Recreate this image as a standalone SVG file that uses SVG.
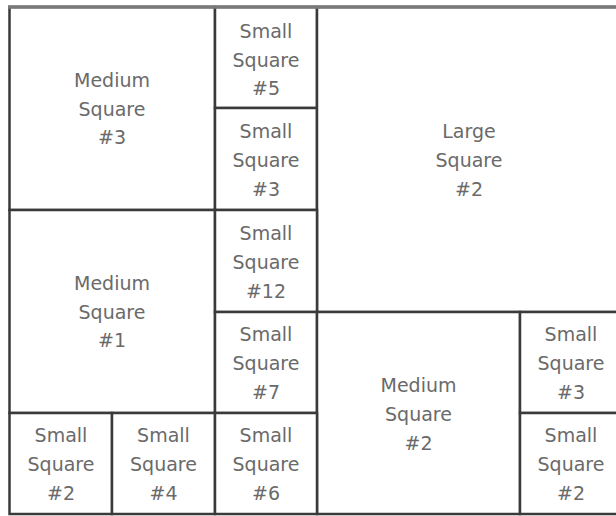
<svg xmlns="http://www.w3.org/2000/svg" width="616" height="516" viewBox="0 0 616 516">
  <style>
    .cell { fill: #ffffff; stroke: #3a3a3a; stroke-width: 2.5; }
    .lbl { font-family: "DejaVu Sans", "Liberation Sans", sans-serif; font-size: 19px; fill: #6a6a6a; text-anchor: middle; dominant-baseline: central; }
    .top { stroke: #7a7a7a; stroke-width: 3.5; fill: none; }
  </style>
  <rect x="0" y="0" width="616" height="516" fill="#ffffff"/>
  <g id="medium-square-3">
    <rect class="cell" x="9.5" y="7" width="205.5" height="203"/>
    <text class="lbl" x="112" y="80">Medium</text>
    <text class="lbl" x="112" y="108.5">Square</text>
    <text class="lbl" x="112" y="137">#3</text>
  </g>
  <g id="small-square-5">
    <rect class="cell" x="215" y="7" width="102" height="101"/>
    <text class="lbl" x="266" y="31">Small</text>
    <text class="lbl" x="266" y="60">Square</text>
    <text class="lbl" x="266" y="88">#5</text>
  </g>
  <g id="small-square-3a">
    <rect class="cell" x="215" y="108" width="102" height="102"/>
    <text class="lbl" x="266" y="131">Small</text>
    <text class="lbl" x="266" y="160">Square</text>
    <text class="lbl" x="266" y="189">#3</text>
  </g>
  <g id="large-square-2">
    <rect class="cell" x="317" y="7" width="306" height="305"/>
    <text class="lbl" x="469" y="131">Large</text>
    <text class="lbl" x="469" y="160">Square</text>
    <text class="lbl" x="469" y="189">#2</text>
  </g>
  <g id="medium-square-1">
    <rect class="cell" x="9.5" y="210" width="205.5" height="203"/>
    <text class="lbl" x="112" y="283">Medium</text>
    <text class="lbl" x="112" y="311.5">Square</text>
    <text class="lbl" x="112" y="340">#1</text>
  </g>
  <g id="small-square-12">
    <rect class="cell" x="215" y="210" width="102" height="102"/>
    <text class="lbl" x="266" y="233">Small</text>
    <text class="lbl" x="266" y="262">Square</text>
    <text class="lbl" x="266" y="291">#12</text>
  </g>
  <g id="small-square-7">
    <rect class="cell" x="215" y="312" width="102" height="101"/>
    <text class="lbl" x="266" y="334">Small</text>
    <text class="lbl" x="266" y="363">Square</text>
    <text class="lbl" x="266" y="392">#7</text>
  </g>
  <g id="medium-square-2">
    <rect class="cell" x="317" y="312" width="203" height="202"/>
    <text class="lbl" x="418.5" y="385">Medium</text>
    <text class="lbl" x="418.5" y="414">Square</text>
    <text class="lbl" x="418.5" y="443">#2</text>
  </g>
  <g id="small-square-3b">
    <rect class="cell" x="520" y="312" width="102" height="101"/>
    <text class="lbl" x="571" y="334">Small</text>
    <text class="lbl" x="571" y="363">Square</text>
    <text class="lbl" x="571" y="392">#3</text>
  </g>
  <g id="small-square-2b">
    <rect class="cell" x="520" y="413" width="102" height="101"/>
    <text class="lbl" x="571" y="435">Small</text>
    <text class="lbl" x="571" y="464">Square</text>
    <text class="lbl" x="571" y="493">#2</text>
  </g>
  <g id="small-square-2a">
    <rect class="cell" x="9.5" y="413" width="102.5" height="101"/>
    <text class="lbl" x="61" y="435">Small</text>
    <text class="lbl" x="61" y="464">Square</text>
    <text class="lbl" x="61" y="493">#2</text>
  </g>
  <g id="small-square-4">
    <rect class="cell" x="112" y="413" width="103" height="101"/>
    <text class="lbl" x="163.5" y="435">Small</text>
    <text class="lbl" x="163.5" y="464">Square</text>
    <text class="lbl" x="163.5" y="493">#4</text>
  </g>
  <g id="small-square-6">
    <rect class="cell" x="215" y="413" width="102" height="101"/>
    <text class="lbl" x="266" y="435">Small</text>
    <text class="lbl" x="266" y="464">Square</text>
    <text class="lbl" x="266" y="493">#6</text>
  </g>
  <g id="connectors"></g>
  <line class="top" x1="8" y1="7" x2="616" y2="7"/>
</svg>
